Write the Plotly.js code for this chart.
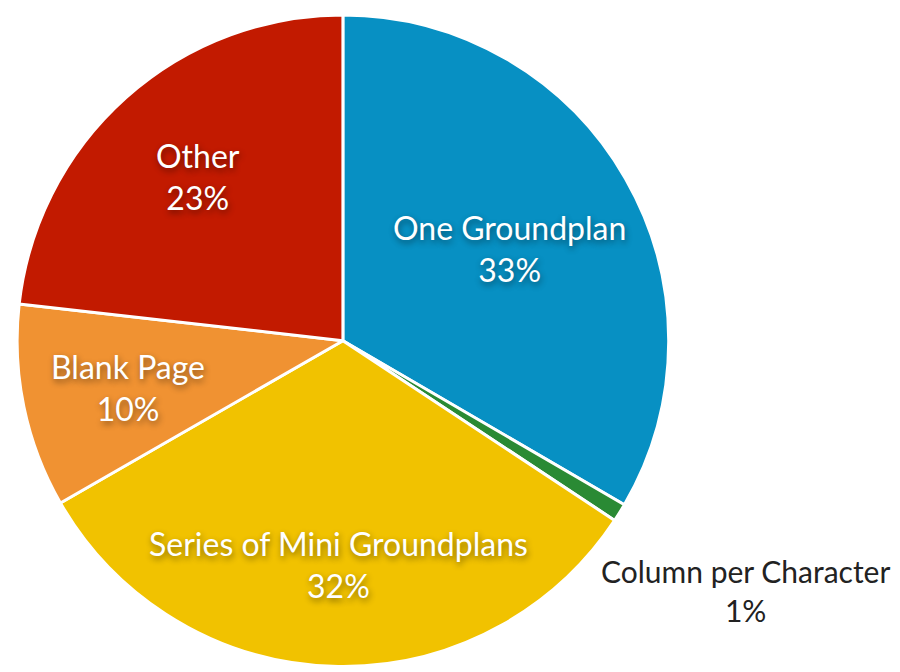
<!DOCTYPE html>
<html>
<head>
<meta charset="utf-8">
<script src="https://cdn.plot.ly/plotly-3.0.1.min.js"></script>
<style>html,body{margin:0;padding:0;background:#fff;}#chart{width:900px;height:672px;}</style>
</head>
<body>
<div id="chart"></div>
<script>
const categories = ["One Groundplan", "Column per Character", "Series of Mini Groundplans", "Blank Page", "Other"];
const shares = [33.4, 0.9, 32.4, 10.1, 23.2];
const shareLabels = ["33%", "1%", "32%", "10%", "23%"];
const sliceColors = ["#0790c3", "#2a8a34", "#f1c200", "#f09232", "#c21a00"];

// label placement (paper fractions) — layout styling only
const labelPos = [[0.566, 0.630], [0.828, 0.122], [0.376, 0.160], [0.142, 0.423], [0.220, 0.737]];
const labelInside = [true, false, true, true, true];

const trace = {
  type: "pie",
  labels: categories,
  values: shares,
  text: shareLabels,
  sort: false,
  direction: "clockwise",
  rotation: 0,
  textinfo: "none",
  automargin: false,
  marker: { colors: sliceColors, line: { color: "#ffffff", width: 3 } },
  domain: { x: [0.019, 0.743], y: [0.006, 0.980] },
  showlegend: false,
  hoverinfo: "label+text"
};

const annotations = categories.map((c, i) => ({
  xref: "paper", yref: "paper",
  x: labelPos[i][0], y: labelPos[i][1],
  xanchor: "center", yanchor: "middle",
  showarrow: false,
  align: "center",
  text: c + "<br>" + shareLabels[i],
  font: labelInside[i]
    ? { family: "Lato, 'Open Sans', sans-serif", size: 32, color: "#ffffff", shadow: "1px 3px 6px rgba(0,0,0,0.45)" }
    : { family: "Lato, 'Open Sans', sans-serif", size: 30, color: "#222222" }
}));

Plotly.newPlot("chart", [trace], {
  width: 900, height: 672,
  margin: { l: 0, r: 0, t: 0, b: 0 },
  paper_bgcolor: "#ffffff",
  showlegend: false,
  annotations: annotations
}, { displayModeBar: false, staticPlot: true });
</script>
</body>
</html>
